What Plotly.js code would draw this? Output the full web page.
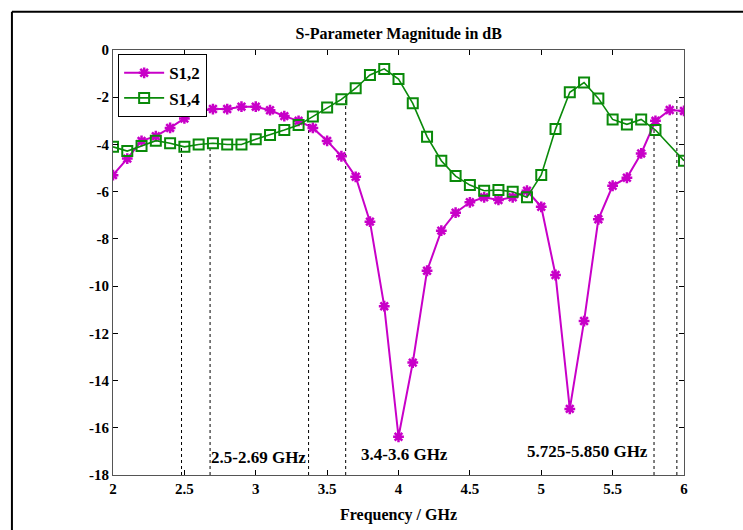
<!DOCTYPE html>
<html>
<head>
<meta charset="utf-8">
<script src="https://cdn.plot.ly/plotly-3.0.1.min.js"></script>
<style>html,body{margin:0;padding:0;background:#fff;}#chart{width:743px;height:530px;}</style>
</head>
<body>
<div id="chart"></div>
<script>
// Frequency points (GHz)
const freqS12 = [2.0,2.1,2.2,2.3,2.4,2.5,2.6,2.7,2.8,2.9,3.0,3.1,3.2,3.3,3.4,3.5,3.6,3.7,3.8,3.9,4.0,4.1,4.2,4.3,4.4,4.5,4.6,4.7,4.8,4.9,5.0,5.1,5.2,5.3,5.4,5.5,5.6,5.7,5.8,5.9,6.0];
const s12 = [-5.3,-4.6,-3.85,-3.65,-3.3,-2.9,-2.6,-2.5,-2.5,-2.4,-2.4,-2.55,-2.8,-3.0,-3.3,-3.85,-4.5,-5.37,-7.27,-10.85,-16.38,-13.24,-9.35,-7.65,-6.89,-6.45,-6.24,-6.35,-6.24,-5.96,-6.64,-9.53,-15.2,-11.48,-7.17,-5.75,-5.41,-4.38,-3.0,-2.54,-2.58];
const freqS14 = [2.0,2.1,2.2,2.3,2.4,2.5,2.6,2.7,2.8,2.9,3.0,3.1,3.2,3.3,3.4,3.5,3.6,3.7,3.8,3.9,4.0,4.1,4.2,4.3,4.4,4.5,4.6,4.7,4.8,4.9,5.0,5.1,5.2,5.3,5.4,5.5,5.6,5.7,5.8,6.0];
const s14 = [-4.1,-4.28,-4.07,-3.84,-3.95,-4.1,-4.0,-3.95,-4.0,-4.0,-3.78,-3.6,-3.39,-3.18,-2.82,-2.44,-2.09,-1.62,-1.06,-0.8,-1.23,-2.26,-3.67,-4.69,-5.34,-5.72,-5.96,-5.93,-6.0,-6.24,-5.29,-3.35,-1.79,-1.38,-2.05,-2.94,-3.15,-2.94,-3.39,-4.69];
// Band edge markers (GHz) and the top of each dashed line (dB)
const bandEdges = [2.48, 2.68, 3.37, 3.63, 5.79, 5.95];
const bandTops = [-4.15, -4.1, -2.97, -2.1, -3.39, -2.0];
// Band labels
const bandLabels = ["2.5-2.69 GHz", "3.4-3.6 GHz", "5.725-5.850 GHz"];
const bandLabelX = [3.016, 4.045, 5.327];
const bandLabelY = [-17.25, -17.15, -17.0];
const xTicks = [2, 2.5, 3, 3.5, 4, 4.5, 5, 5.5, 6];
const xTickText = ["2", "2.5", "3", "3.5", "4", "4.5", "5", "5.5", "6"];
const yTicks = [0, -2, -4, -6, -8, -10, -12, -14, -16, -18];
const yTickText = ["0", "-2", "-4", "-6", "-8", "-10", "-12", "-14", "-16", "-18"];

const serif = "Liberation Serif, Times New Roman, serif";
const magenta = "#c800c8";
const green = "#0a8a0a";

const traces = [
  {x: freqS12, y: s12, name: "S1,2", type: "scatter", mode: "lines+markers",
   line: {color: magenta, width: 2},
   marker: {symbol: "asterisk-open", size: 9, color: magenta, line: {color: magenta, width: 2.5}}},
  {x: freqS14, y: s14, name: "S1,4", type: "scatter", mode: "lines+markers",
   line: {color: green, width: 1.6},
   marker: {symbol: "square-open", size: 10, color: green, line: {color: green, width: 2}}}
];

const shapes = bandEdges.map((f, i) => ({
  type: "line", xref: "x", yref: "y", x0: f, x1: f, y0: -18, y1: bandTops[i],
  line: {color: "#000", width: 1, dash: "3px,3px"}, layer: "below"
}));
// outer frame (top and left edges)
shapes.push({type: "line", xref: "paper", yref: "paper", x0: -0.177, x1: 1.11, y0: 1.09, y1: 1.09, line: {color: "#000", width: 2}});
shapes.push({type: "line", xref: "paper", yref: "paper", x0: -0.177, x1: -0.177, y0: 1.09, y1: -0.14, line: {color: "#000", width: 2}});

const annotations = bandLabels.map((t, i) => ({
  x: bandLabelX[i], y: bandLabelY[i], xref: "x", yref: "y", text: t, showarrow: false,
  font: {family: serif, size: 17, color: "#000", weight: "bold"}
}));

const layout = {
  width: 743, height: 530,
  margin: {l: 113, r: 59, t: 50, b: 55},
  paper_bgcolor: "#fff", plot_bgcolor: "#fff",
  title: {text: "<b>S-Parameter Magnitude in dB</b>", font: {family: serif, size: 16, color: "#000"}, x: 0.5366, xanchor: "center", y: 0.937, yanchor: "middle"},
  xaxis: {range: [2, 6], tickvals: xTicks, ticktext: xTickText, ticks: "inside", ticklen: 5, tickcolor: "#000",
          showline: true, linecolor: "#555", linewidth: 1, mirror: "ticks", showgrid: false, zeroline: false,
          tickfont: {family: serif, size: 15, color: "#000", weight: "bold"},
          title: {text: "<b>Frequency / GHz</b>", font: {family: serif, size: 16, color: "#000"}, standoff: 12}},
  yaxis: {range: [-18, 0], tickvals: yTicks, ticktext: yTickText, ticks: "inside", ticklen: 5, tickcolor: "#000",
          showline: true, linecolor: "#555", linewidth: 1, mirror: "ticks", showgrid: false, zeroline: false,
          tickfont: {family: serif, size: 15, color: "#000", weight: "bold"}},
  legend: {x: 0.009, y: 0.99, xanchor: "left", yanchor: "top", bgcolor: "#fff", bordercolor: "#000", borderwidth: 1,
           font: {family: serif, size: 17, color: "#000", weight: "bold"}, tracegroupgap: 0, itemwidth: 40},
  shapes: shapes,
  annotations: annotations,
  showlegend: true
};

Plotly.newPlot("chart", traces, layout, {displayModeBar: false, staticPlot: true});
</script>
</body>
</html>
